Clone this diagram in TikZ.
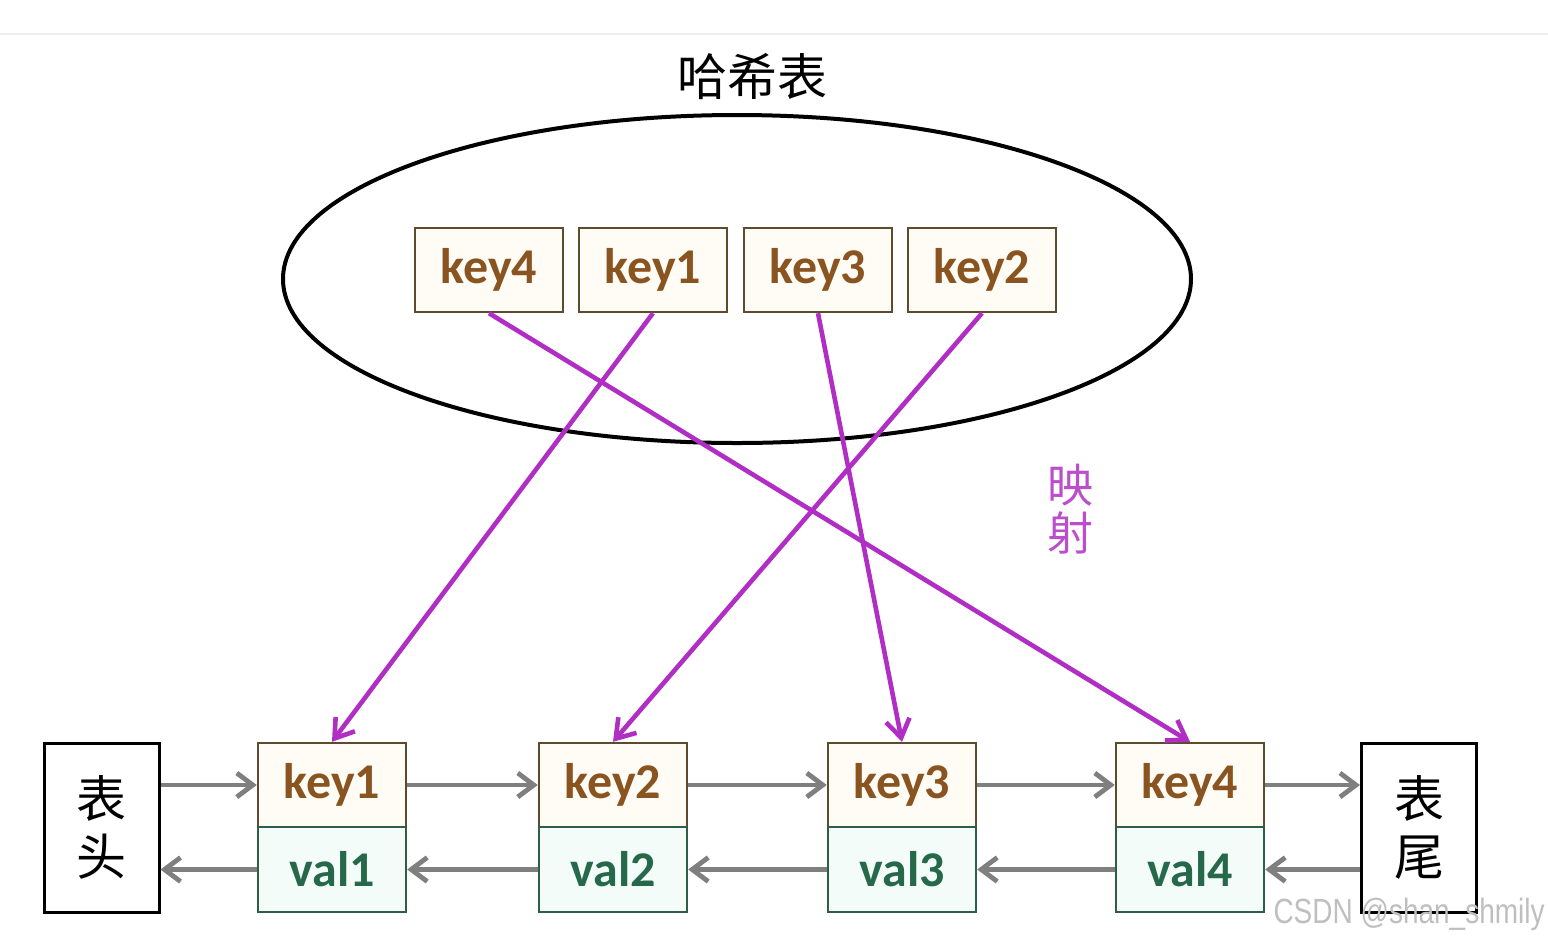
\documentclass[tikz,border=0pt]{standalone}
\usepackage{fontspec}
\usetikzlibrary{shapes.geometric, arrows.meta, calc}
\newfontfamily\keyfont{Carlito}
\newfontfamily\cjk{Noto Sans CJK SC}
\newfontfamily\markfont{Liberation Sans}
\definecolor{keybrown}{HTML}{8A5420}
\definecolor{keyline}{HTML}{5E4B2E}
\definecolor{keyfill}{HTML}{FFFCF6}
\definecolor{valgreen}{HTML}{26694A}
\definecolor{valline}{HTML}{2F5E48}
\definecolor{valfill}{HTML}{F4FCFA}
\definecolor{mapcolor}{HTML}{B02EC4}
\definecolor{linkgray}{HTML}{7F7F7F}

\begin{document}
\begin{tikzpicture}[x=0.5pt, y=-0.5pt]
        \tikzstyle{key} = [rectangle, draw=keyline, line width=1.2pt, fill=keyfill, text=keybrown, inner sep=0pt, minimum width=74pt, minimum height=42pt, font=\keyfont\bfseries\fontsize{25pt}{27pt}\selectfont]
        \tikzstyle{val} = [key, draw=valline, fill=valfill, text=valgreen, minimum height=42.5pt]
        \tikzstyle{ends} = [rectangle, draw=black, line width=1.5pt, fill=white, inner sep=0pt, minimum width=57.5pt, minimum height=84.5pt, align=center, font=\cjk\fontsize{25pt}{29pt}\selectfont]
        \tikzstyle{link} = [draw=linkgray, line width=2.4pt, -{Straight Barb[length=8pt, width=12pt, line width=2.4pt]}]
        \tikzstyle{map} = [draw=mapcolor, line width=2.3pt, -{Straight Barb[length=9pt, width=12pt, line width=2.3pt]}]

        \useasboundingbox (0,0) rectangle (1548,944);
        \draw[black!7, line width=1pt] (0,34) -- (1548,34);

        % hash table
        \node (title) at (752,77) {\cjk\fontsize{25pt}{27pt}\selectfont 哈希表};
        \node[ellipse, draw=black, line width=2pt, minimum width=454pt, minimum height=164pt, inner sep=0pt] (table) at (737,279) {};
        \foreach \i/\x in {4/489,1/653,3/818,2/982}
            \node[key] (h\i) at (\x,270) {key\i};

        % linked list
        \node[ends] (hd) at (101.5,827.5) {表\\头};
        \node[ends] (tl) at (1419,827.5) {表\\尾};
        \foreach \i/\x in {1/332,2/613,3/902,4/1190}{
            \node[key] (k\i) at (\x,785) {key\i};
            \node[val] (v\i) at (\x,869.5) {val\i};
        }

        \draw[link] (hd.east |- k1) -- (k1.west);
        \draw[link] (v1.west) -- (hd.east |- v1);
        \foreach \i/\j in {1/2,2/3,3/4}{
            \draw[link] (k\i.east) -- (k\j.west);
            \draw[link] (v\j.west) -- (v\i.east);
        }
        \draw[link] (k4.east) -- (tl.west |- k4);
        \draw[link] (tl.west |- v4) -- (v4.east);

        % mapping
        \foreach \i in {1,...,4}
            \draw[map] (h\i.south) -- (k\i.north);
        \node[text=mapcolor!85, align=center, font=\cjk\fontsize{23pt}{24pt}\selectfont] (maplabel) at (1070,509) {映\\射};

        \node[anchor=south east, inner sep=0pt, xscale=0.8, text=black!25, font=\markfont\fontsize{17.5pt}{18pt}\selectfont] (mark) at (1545,931) {CSDN @shan\_shmily};
    \end{tikzpicture}
\end{document}
